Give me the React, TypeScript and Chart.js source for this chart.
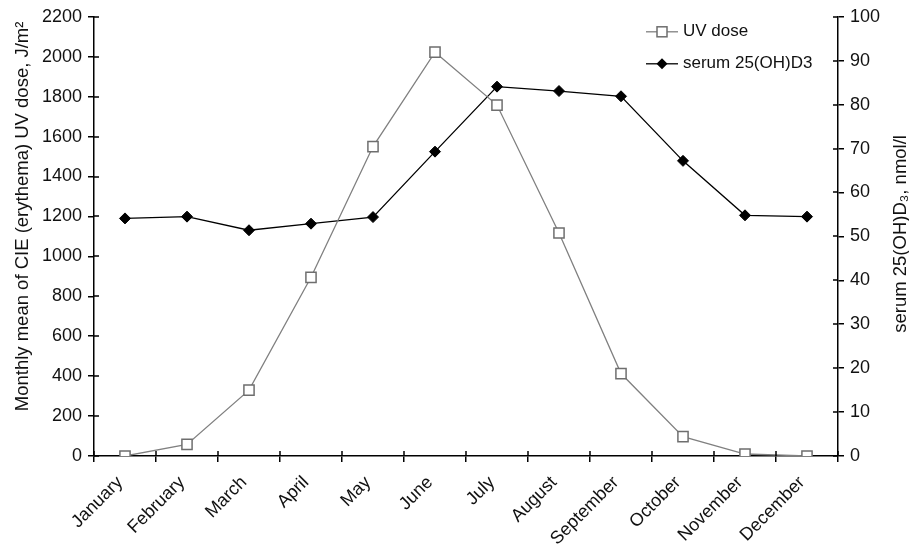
import React, { useEffect, useRef } from 'react';
import { Chart, registerables } from 'chart.js';

Chart.register(...registerables);

const months = ['January', 'February', 'March', 'April', 'May', 'June', 'July', 'August', 'September', 'October', 'November', 'December'];
const uvDose = [0, 58, 330, 895, 1550, 2023, 1758, 1117, 413, 97, 10, 0];
const serum25OHD3 = [54.1, 54.5, 51.4, 52.9, 54.4, 69.3, 84.1, 83.1, 81.9, 67.2, 54.8, 54.5];
const leftAxis = { min: 0, max: 2200, step: 200 };
const rightAxis = { min: 0, max: 100, step: 10 };
const leftTitle = 'Monthly mean of CIE (erythema) UV dose, J/m\u00B2';
const rightTitle = 'serum 25(OH)D\u2083, nmol/l';
const legendLabels = ['UV dose', 'serum 25(OH)D3'];

const FONT = '"Liberation Sans", Arial, Helvetica, sans-serif';
const UV_LINE = '#808080';
const UV_MARK = '#6e6e6e';

function drawSquare(ctx: CanvasRenderingContext2D, x: number, y: number, half: number) {
  ctx.fillStyle = '#ffffff';
  ctx.strokeStyle = UV_MARK;
  ctx.lineWidth = 1.5;
  ctx.fillRect(x - half, y - half, half * 2, half * 2);
  ctx.strokeRect(x - half, y - half, half * 2, half * 2);
}

function drawDiamond(ctx: CanvasRenderingContext2D, x: number, y: number, r: number) {
  ctx.fillStyle = '#000000';
  ctx.beginPath();
  ctx.moveTo(x, y - r);
  ctx.lineTo(x + r, y);
  ctx.lineTo(x, y + r);
  ctx.lineTo(x - r, y);
  ctx.closePath();
  ctx.fill();
}

const decorations = {
  id: 'decorations',
  afterDraw(chart: any) {
    const ctx: CanvasRenderingContext2D = chart.ctx;
    const { left, right, top, bottom } = chart.chartArea;
    const xs = chart.scales.x;
    const ys = chart.scales.y;
    const ys1 = chart.scales.y1;
    ctx.save();
    // inner halves of crossing tick marks
    ctx.strokeStyle = '#000';
    ctx.lineWidth = 1.5;
    ctx.beginPath();
    ys.ticks.forEach((_t: any, i: number) => {
      const py = Math.round(ys.getPixelForTick(i));
      ctx.moveTo(left, py);
      ctx.lineTo(left + 5, py);
    });
    ys1.ticks.forEach((_t: any, i: number) => {
      const py = Math.round(ys1.getPixelForTick(i));
      ctx.moveTo(right - 5, py);
      ctx.lineTo(right, py);
    });
    const n = months.length;
    for (let i = 0; i <= n; i++) {
      const px = Math.round(xs.left + (xs.width * i) / n);
      ctx.moveTo(px, bottom - 5);
      ctx.lineTo(px, bottom);
    }
    ctx.stroke();

    // axis titles (both read bottom-to-top)
    ctx.fillStyle = '#111';
    ctx.font = `18.5px ${FONT}`;
    ctx.textAlign = 'center';
    ctx.textBaseline = 'middle';
    ctx.save();
    ctx.translate(23, (top + bottom) / 2 - 20);
    ctx.rotate(-Math.PI / 2);
    ctx.fillText(leftTitle, 0, 0);
    ctx.restore();
    ctx.save();
    ctx.translate(901, (top + bottom) / 2 - 2.5);
    ctx.rotate(-Math.PI / 2);
    ctx.fillText(rightTitle, 0, 0);
    ctx.restore();

    // legend
    const lx = right - 192;
    const rows = [top + 15, top + 47];
    ctx.font = `17px ${FONT}`;
    ctx.textAlign = 'left';
    ctx.textBaseline = 'middle';
    ctx.strokeStyle = UV_LINE;
    ctx.lineWidth = 1.3;
    ctx.beginPath();
    ctx.moveTo(lx, rows[0]);
    ctx.lineTo(lx + 32, rows[0]);
    ctx.stroke();
    drawSquare(ctx, lx + 16, rows[0], 5);
    ctx.fillStyle = '#111';
    ctx.fillText(legendLabels[0], lx + 37, rows[0]);
    ctx.strokeStyle = '#000';
    ctx.lineWidth = 1.3;
    ctx.beginPath();
    ctx.moveTo(lx, rows[1]);
    ctx.lineTo(lx + 32, rows[1]);
    ctx.stroke();
    drawDiamond(ctx, lx + 16, rows[1], 5.5);
    ctx.fillStyle = '#111';
    ctx.fillText(legendLabels[1], lx + 37, rows[1]);
    ctx.restore();
  },
};

const plain = (v: any) => String(v);

export default function App() {
  const ref = useRef<HTMLCanvasElement | null>(null);
  useEffect(() => {
    if (!ref.current) return;
    const chart = new Chart(ref.current, {
      type: 'line',
      data: {
        labels: months,
        datasets: [
          {
            label: legendLabels[0],
            data: uvDose,
            yAxisID: 'y',
            borderColor: UV_LINE,
            borderWidth: 1.3,
            pointStyle: 'rect',
            pointRadius: 7.2,
            pointBackgroundColor: '#ffffff',
            pointBorderColor: UV_MARK,
            pointBorderWidth: 1.5,
            tension: 0,
          },
          {
            label: legendLabels[1],
            data: serum25OHD3,
            yAxisID: 'y1',
            borderColor: '#000000',
            borderWidth: 1.3,
            pointStyle: 'rectRot',
            pointRadius: 5.5,
            pointBackgroundColor: '#000000',
            pointBorderColor: '#000000',
            pointBorderWidth: 1,
            tension: 0,
          },
        ],
      },
      options: {
        responsive: false,
        animation: false,
        layout: { padding: { top: 16, left: 0, right: 0, bottom: 0 } },
        plugins: { legend: { display: false }, tooltip: { enabled: false } },
        scales: {
          x: {
            type: 'category',
            offset: true,
            grid: { display: true, drawOnChartArea: false, offset: true, tickLength: 6, color: '#000', lineWidth: 1.5 },
            border: { display: true, color: '#000', width: 1.5 },
            ticks: {
              autoSkip: false,
              maxRotation: 45,
              minRotation: 45,
              padding: 10,
              labelOffset: -5,
              color: '#111',
              font: { family: FONT, size: 18 },
            },
            afterFit: (s: any) => { s.height = 89; },
          },
          y: {
            type: 'linear',
            position: 'left',
            min: leftAxis.min,
            max: leftAxis.max,
            grid: { display: true, drawOnChartArea: false, tickLength: 6, color: '#000', lineWidth: 1.5 },
            border: { display: true, color: '#000', width: 1.5 },
            ticks: {
              stepSize: leftAxis.step,
              padding: 6,
              color: '#111',
              font: { family: FONT, size: 18 },
              callback: plain,
            },
            afterFit: (s: any) => { s.width = 94; },
          },
          y1: {
            type: 'linear',
            position: 'right',
            min: rightAxis.min,
            max: rightAxis.max,
            grid: { display: true, drawOnChartArea: false, tickLength: 6, color: '#000', lineWidth: 1.5 },
            border: { display: true, color: '#000', width: 1.5 },
            ticks: {
              stepSize: rightAxis.step,
              padding: 6,
              color: '#111',
              font: { family: FONT, size: 18 },
              callback: plain,
            },
            afterFit: (s: any) => { s.width = 71; },
          },
        },
      },
      plugins: [decorations],
    });
    return () => chart.destroy();
  }, []);
  return (
    <div style={{ position: 'fixed', left: 0, top: 0, width: 909, height: 545, background: '#fff' }}>
      <canvas ref={ref} width={909} height={545} style={{ display: 'block' }} />
    </div>
  );
}
